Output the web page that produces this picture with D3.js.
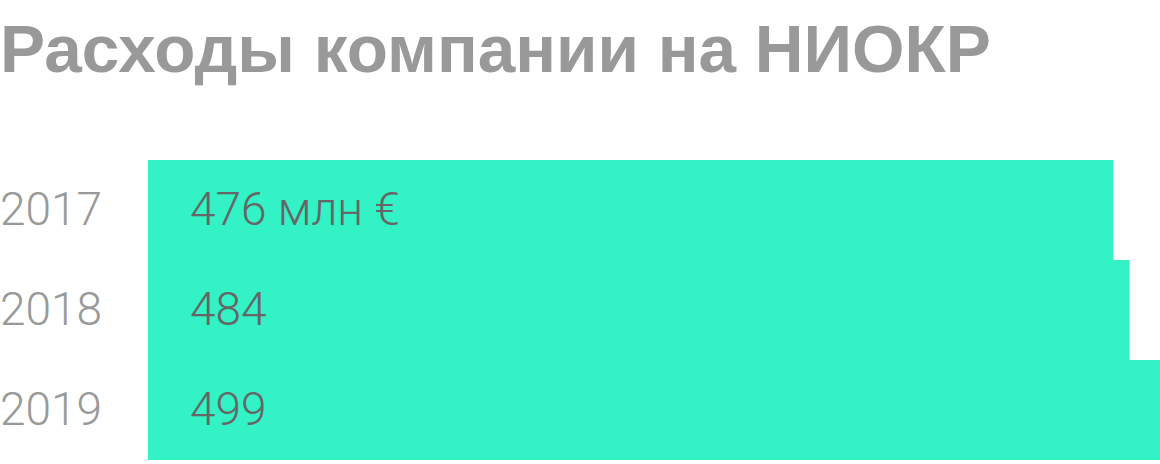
<!DOCTYPE html>
<html>
<head>
<meta charset="utf-8">
<script src="https://cdn.jsdelivr.net/npm/d3@7"></script>
<style>
  body { margin: 0; background: #fff; }
  svg { display: block; }
</style>
</head>
<body>
<svg id="chart" width="1160" height="464"></svg>
<script>
const title = 'Расходы компании на НИОКР'
const years = ['2017', '2018', '2019']
const values = [476, 484, 499]
const valueLabels = ['476 млн €', '484', '499']

const width = 1160
const margin = { top: 160, left: 148, bottom: 4 }
const barHeight = 100

const svg = d3.select('#chart')

// Title
svg.append('text')
    .attr('x', 0)
    .attr('y', 72)
    .attr('font-family', 'Liberation Sans, Arial, sans-serif')
    .attr('font-weight', 700)
    .attr('font-size', 67.5)
    .attr('fill', '#999999')
    .text(title)

const x = d3.scaleLinear()
  .domain([0, d3.max(values)])
  .range([0, width - margin.left])

const y = d3.scaleBand()
  .domain(years)
  .range([margin.top, margin.top + barHeight * years.length])
  .padding(0)

const g = svg.append('g')

// Bars
g.selectAll('rect')
    .data(values)
  .enter()
  .append('rect')
    .attr('x', margin.left)
    .attr('y', (d, i) => y(years[i]))
    .attr('width', d => x(d))
    .attr('height', y.bandwidth())
    .attr('fill', '#33f2c5')

// Year labels
g.selectAll('.year')
    .data(years)
  .enter()
  .append('text')
    .attr('class', 'year')
    .attr('x', 0)
    .attr('y', d => y(d) + 65)
    .attr('font-family', 'Roboto, sans-serif')
    .attr('font-weight', 300)
    .attr('font-size', 46)
    .attr('fill', '#999999')
    .text(d => d)

// Value labels inside bars
g.selectAll('.value')
    .data(valueLabels)
  .enter()
  .append('text')
    .attr('class', 'value')
    .attr('x', margin.left + 42)
    .attr('y', (d, i) => y(years[i]) + 65)
    .attr('font-family', 'Roboto, sans-serif')
    .attr('font-weight', 300)
    .attr('font-size', 46)
    .attr('fill', '#666666')
    .text(d => d)
</script>
</body>
</html>
